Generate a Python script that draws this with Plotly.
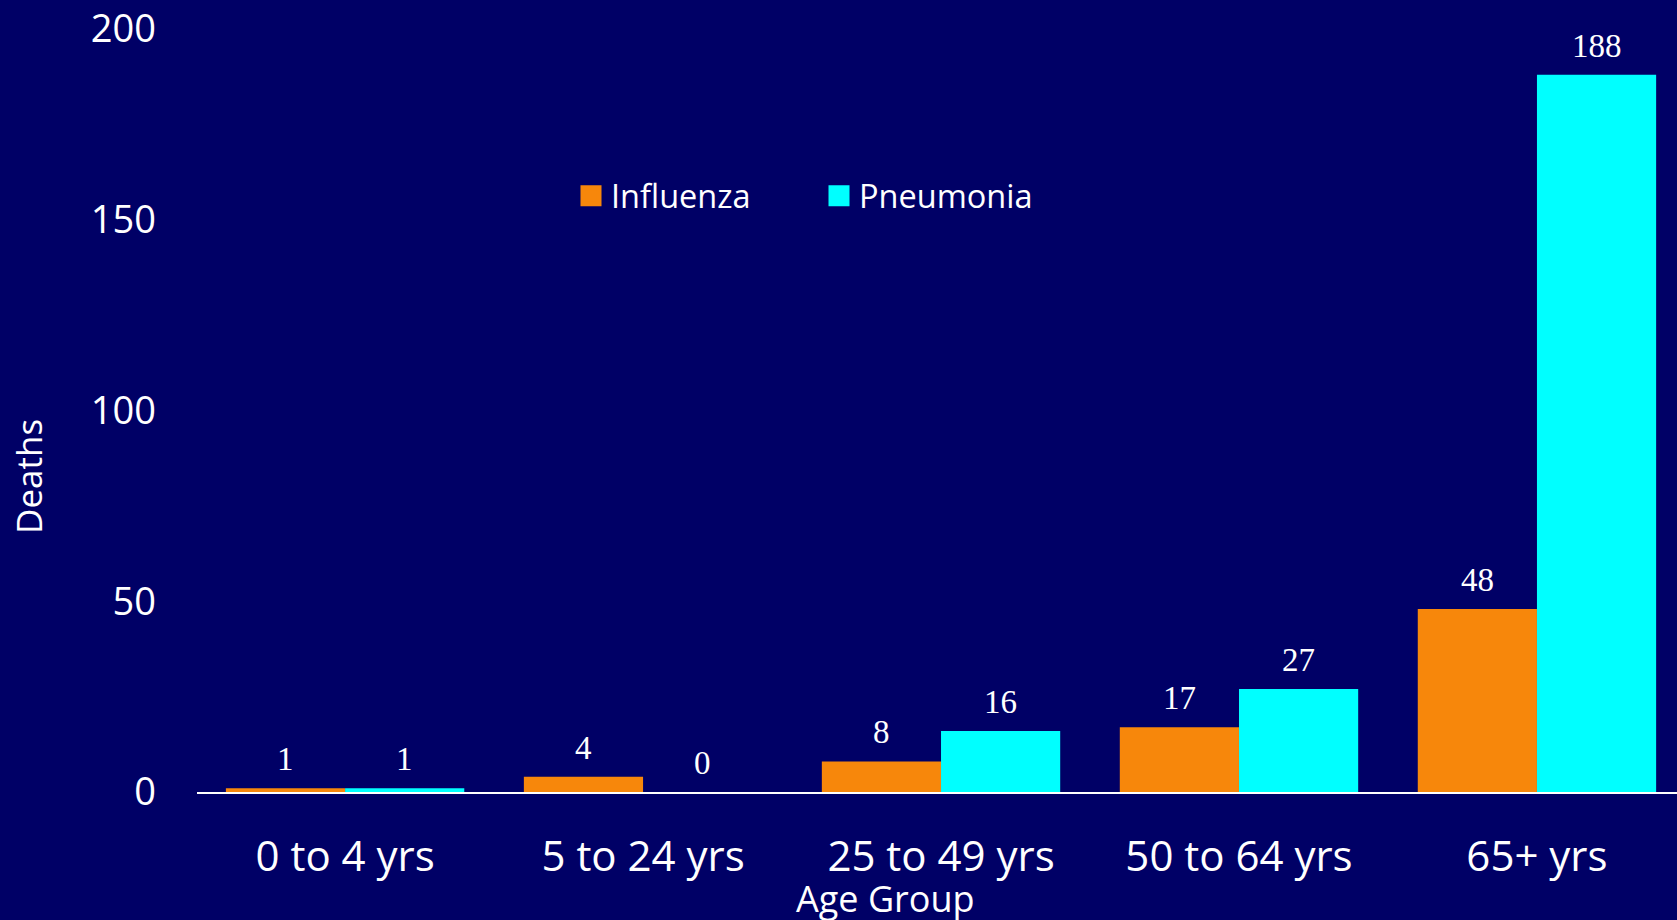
import plotly.graph_objects as go

categories = ["0 to 4 yrs", "5 to 24 yrs", "25 to 49 yrs", "50 to 64 yrs", "65+ yrs"]
influenza = [1, 4, 8, 17, 48]
pneumonia = [1, 0, 16, 27, 188]
y_ticks = [0, 50, 100, 150, 200]

BG = "#000066"
ORANGE = "#F7870B"
CYAN = "#00FFFF"
SANS = "Open Sans"
SERIF = "Liberation Serif"

W, H = 1677, 920
ML, MR, MT, MB = 197, 0, 29, 128
PW = W - ML - MR
PH = H - MT - MB
BARGAP = 0.2

def px_x(px):
    return (px - ML) / PW

def px_y(py):
    return (H - MB - py) / PH

fig = go.Figure()
fig.add_trace(go.Bar(x=categories, y=influenza, name="Influenza",
                     marker=dict(color=ORANGE, line=dict(width=0)), showlegend=False))
fig.add_trace(go.Bar(x=categories, y=pneumonia, name="Pneumonia",
                     marker=dict(color=CYAN, line=dict(width=0)), showlegend=False))

# legend-only entries with larger swatches
for name, col in [("Influenza", ORANGE), ("Pneumonia", CYAN)]:
    fig.add_trace(go.Scatter(x=[None], y=[None], mode="markers", name=name,
                             marker=dict(symbol="square", size=16, color=col,
                                         line=dict(color=col, width=5))))

# value labels
half = (1 - BARGAP) / 4
annotations = []
for series, off in [(influenza, -half), (pneumonia, half)]:
    for i, v in enumerate(series):
        annotations.append(dict(x=i + off, y=v, xref="x", yref="y", text=str(v),
                                showarrow=False, yanchor="bottom", yshift=9,
                                font=dict(family=SERIF, size=33, color="white")))

annotations.append(dict(x=px_x(885), y=px_y(898), xref="paper", yref="paper",
                        text="Age Group", showarrow=False, xanchor="center", yanchor="middle",
                        font=dict(family=SANS, size=36, color="white")))
annotations.append(dict(x=px_x(28), y=px_y(477), xref="paper", yref="paper",
                        text="Deaths", showarrow=False, textangle=-90,
                        xanchor="center", yanchor="middle",
                        font=dict(family=SANS, size=35, color="white")))

fig.update_layout(
    width=W, height=H,
    margin=dict(l=ML, r=MR, t=MT, b=MB, pad=0),
    paper_bgcolor=BG, plot_bgcolor=BG,
    barmode="group", bargap=BARGAP, bargroupgap=0,
    showlegend=True,
    legend=dict(orientation="h", x=px_x(571), y=px_y(196), xanchor="left", yanchor="middle",
                font=dict(family=SANS, size=32.5, color="white"),
                bgcolor="rgba(0,0,0,0)", entrywidth=203, entrywidthmode="pixels",
                itemsizing="trace"),
    annotations=annotations,
    xaxis=dict(range=[-0.497, 4.47], showgrid=False, zeroline=False,
               showline=True, linecolor="white", linewidth=2,
               ticks="", ticklabelstandoff=27,
               tickfont=dict(family=SANS, size=42, color="white")),
    yaxis=dict(range=[0, 200], tickvals=y_ticks, showgrid=False, zeroline=False,
               showline=False, ticks="", ticklabelstandoff=40,
               tickfont=dict(family=SANS, size=38, color="white")),
)

fig.write_html("out.html", config={"displayModeBar": False},
               post_script="document.body.style.margin='0';document.body.style.background='#000066';")
